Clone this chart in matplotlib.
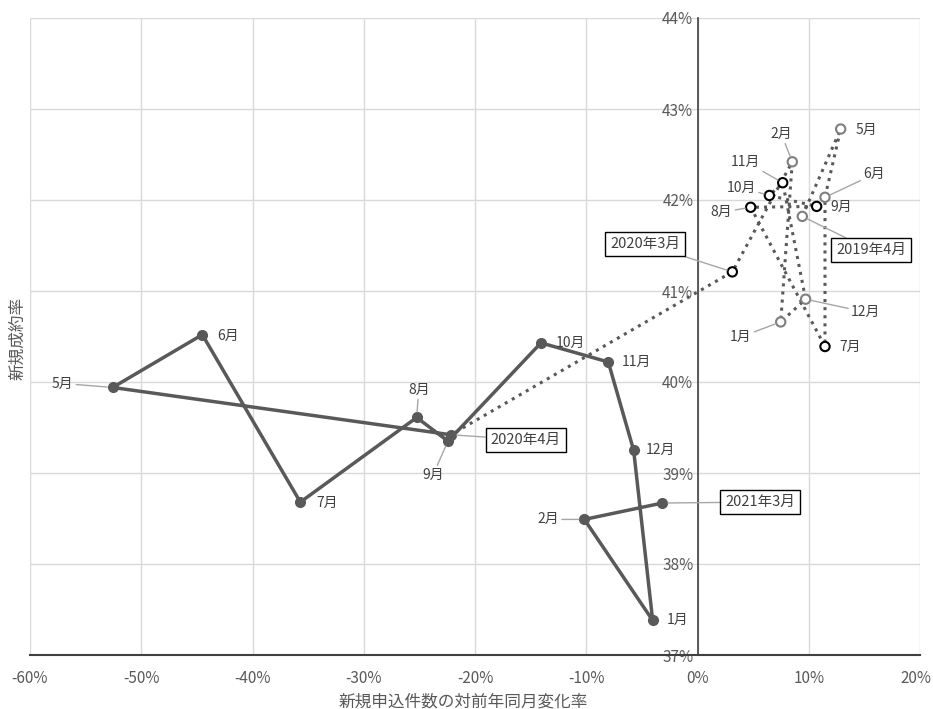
import matplotlib
matplotlib.use('Agg')
import matplotlib.pyplot as plt
import matplotlib.transforms as mtransforms
from matplotlib.ticker import PercentFormatter

plt.rcParams['font.family'] = ['Noto Sans CJK JP', 'DejaVu Sans']
plt.rcParams['axes.unicode_minus'] = False

# ============================================================
# Data: 2019年4月 - 2020年3月 (dotted), 2020年4月 - 2021年3月 (solid)
# ============================================================
prev_labels = ['2019年4月', '5月', '6月', '7月', '8月', '9月',
               '10月', '11月', '12月', '1月', '2月', '2020年3月']
prev_x = [9.42, 12.87, 11.46, 11.46, 4.78, 10.71, 6.46, 7.66, 9.72, 7.48, 8.52, 3.13]
prev_y = [41.82, 42.78, 42.03, 40.39, 41.92, 41.93, 42.05, 42.19, 40.91, 40.66, 42.42, 41.21]

cur_labels = ['2020年4月', '5月', '6月', '7月', '8月', '9月',
              '10月', '11月', '12月', '1月', '2月', '2021年3月']
cur_x = [-22.16, -52.57, -44.51, -35.70, -25.24, -22.43, -14.07, -8.02, -5.74, -4.03, -10.17, -3.16]
cur_y = [39.42, 39.94, 40.52, 38.68, 39.61, 39.35, 40.43, 40.22, 39.25, 37.38, 38.49, 38.67]

# label offsets (pixels: right, down) and leader-line flags
prev_off = [(69, 34), (26, 1), (49, -23), (25, 0), (-29, 5), (25, 1),
            (-28, -8), (-37, -21), (60, 13), (-40, 15), (-11, -28), (-87, -28)]
prev_lead = [True, False, True, False, True, False, True, True, True, True, True, True]
prev_dark = [False, False, False, True, True, True, True, True, False, False, False, True]

cur_off = [(75, 5), (-50, -4), (26, 1), (27, 1), (2, -28), (-15, 34),
           (29, 0), (28, 0), (27, 0), (25, 0), (-36, 0), (98, -1)]
cur_lead = [True, True, False, False, True, True, False, False, False, False, True, True]

DARK = '#595959'
GRID = '#d9d9d9'
LEAD = '#a6a6a6'
TXT = '#404040'

fig = plt.figure(figsize=(9.33, 7.09), dpi=100)
ax = fig.add_axes([30 / 933, 1 - 655 / 709, 890 / 933, 637 / 709])

# dotted path: 2019/4 -> 2020/3 -> 2020/4
ax.plot(prev_x + [cur_x[0]], prev_y + [cur_y[0]], linestyle=':', color=DARK, lw=2.2, zorder=3)
edge = ['#000000' if d else '#7f7f7f' for d in prev_dark]
ax.scatter(prev_x, prev_y, s=45, facecolors='white', edgecolors=edge, linewidths=1.5, zorder=4)

# solid path: 2020/4 -> 2021/3
ax.plot(cur_x, cur_y, color=DARK, lw=2.5, marker='o', markersize=7, zorder=5)


def label_points(xs, ys, labels, offs, leads):
    for x, y, lab, (dx, dy), lead in zip(xs, ys, labels, offs, leads):
        boxed = '年' in lab
        bbox = dict(boxstyle='square,pad=0.35', fc='white', ec='black', lw=1) if boxed else None
        arrow = dict(arrowstyle='-', color=LEAD, lw=1, shrinkA=0, shrinkB=4) if lead else None
        ax.annotate(lab, (x, y), xytext=(dx * 0.72, -dy * 0.72), textcoords='offset points',
                    ha='center', va='center', fontsize=10.5 if boxed else 10, color=TXT,
                    bbox=bbox, arrowprops=arrow, zorder=6)


label_points(prev_x, prev_y, prev_labels, prev_off, prev_lead)
label_points(cur_x, cur_y, cur_labels, cur_off, cur_lead)

# ============================================================
# Axes styling
# ============================================================
ax.set_xlim(-60, 20)
ax.set_ylim(37, 44)
ax.set_xticks(range(-60, 21, 10))
ax.set_yticks(range(37, 45))
ax.xaxis.set_major_formatter(PercentFormatter(decimals=0))
ax.yaxis.set_major_formatter(PercentFormatter(decimals=0))
ax.grid(True, color=GRID, lw=1)
ax.set_axisbelow(True)

ax.spines['left'].set_position(('data', 0))
ax.spines['left'].set_color('#404040')
ax.spines['left'].set_linewidth(1.2)
ax.spines['bottom'].set_color('#404040')
ax.spines['bottom'].set_linewidth(1.5)
ax.spines['top'].set_visible(False)
ax.spines['right'].set_visible(False)
ax.tick_params(length=0, labelsize=11, labelcolor=DARK)
ax.tick_params(axis='x', pad=11)
ax.tick_params(axis='y', pad=3)

# keep the last x tick label inside the canvas
fig.canvas.draw()
last = ax.get_xticklabels()[-1]
last.set_transform(last.get_transform() +
                   mtransforms.ScaledTranslation(-4 / 100, 0, fig.dpi_scale_trans))

fig.text(463 / 933, 1 - 702 / 709, '新規申込件数の対前年同月変化率', ha='center', va='center',
         fontsize=12, color=DARK)
fig.text(18 / 933, 1 - 338 / 709, '新規成約率', rotation=90, ha='center', va='center',
         fontsize=12, color=DARK)

fig.savefig('out.png', dpi=100)
